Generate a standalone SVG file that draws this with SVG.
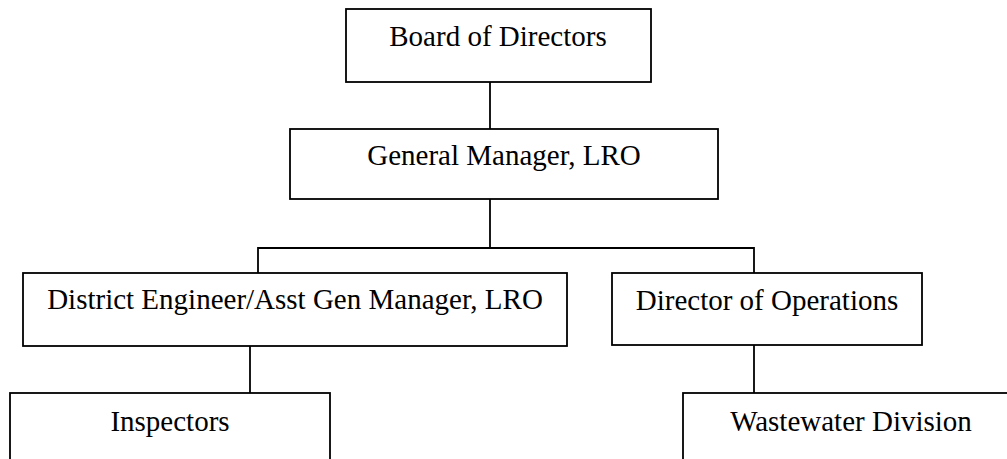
<svg xmlns="http://www.w3.org/2000/svg" width="1007" height="459" viewBox="0 0 1007 459">
<style>
.box{fill:#fff;stroke:#000;stroke-width:1.8}
.lbl{font-family:"Liberation Serif","Times New Roman",serif;font-size:29px;fill:#000;text-anchor:middle}
.conn{stroke:#000;stroke-width:1.8;fill:none}
</style>
<rect width="1007" height="459" fill="#fff"/>
<g id="connectors">
<line class="conn" x1="490" y1="82" x2="490" y2="129"/>
<polyline class="conn" points="258,273 258,248 754,248 754,273"/>
<line class="conn" x1="490" y1="199" x2="490" y2="248"/>
<line class="conn" x1="250" y1="346" x2="250" y2="393"/>
<line class="conn" x1="754" y1="345" x2="754" y2="393"/>
</g>
<g id="board">
<rect class="box" x="346" y="9" width="305" height="73"/>
<text class="lbl" x="498" y="46">Board of Directors</text>
</g>
<g id="gm">
<rect class="box" x="290" y="129" width="428" height="70"/>
<text class="lbl" x="504" y="165">General Manager, LRO</text>
</g>
<g id="district">
<rect class="box" x="23" y="273" width="544" height="73"/>
<text class="lbl" x="295" y="309">District Engineer/Asst Gen Manager, LRO</text>
</g>
<g id="director">
<rect class="box" x="612" y="273" width="310" height="72"/>
<text class="lbl" x="767" y="310">Director of Operations</text>
</g>
<g id="inspectors">
<rect class="box" x="10" y="393" width="320" height="80"/>
<text class="lbl" x="170" y="431">Inspectors</text>
</g>
<g id="wastewater">
<rect class="box" x="683" y="393" width="340" height="80"/>
<text class="lbl" x="851" y="431">Wastewater Division</text>
</g>
</svg>
